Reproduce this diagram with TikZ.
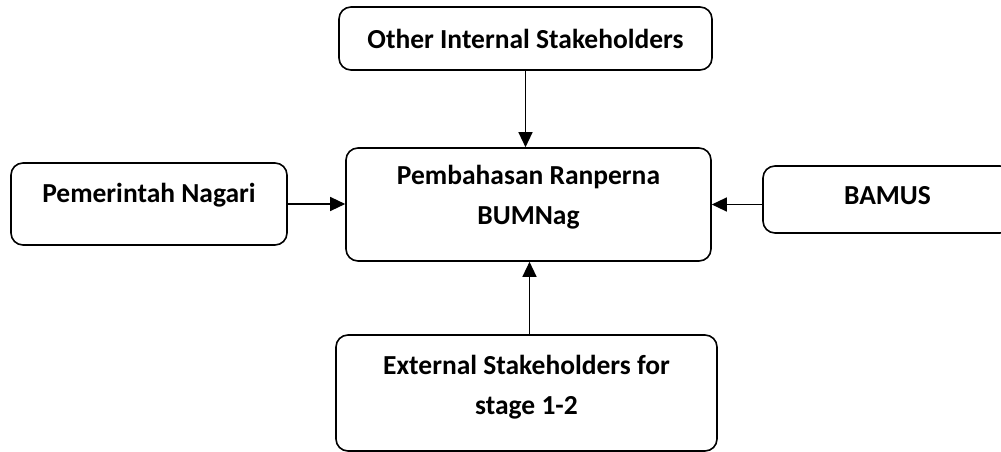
\documentclass[tikz,border=0pt]{standalone}
\usepackage{fontspec}
\setmainfont{Carlito}
\usetikzlibrary{arrows.meta,positioning}

\begin{document}
\begin{tikzpicture}[x=1pt,y=-1pt,
  box/.style={draw,line width=1.6pt,rounded corners=12pt,inner sep=0pt,align=center,
    font=\bfseries\fontsize{27.5}{40}\selectfont},
  arr/.style={line width=1.3pt,-{Triangle[length=15pt,width=14pt]}}]
\useasboundingbox (0,0) rectangle (1001,452);
\node[box,minimum width=373pt,minimum height=63pt] (other) at (525.5,38.5) {Other Internal Stakeholders};
\node[box,minimum width=365pt,minimum height=113pt,text height=60pt,text depth=21pt] (pembahasan) at (528.5,204.5) {Pembahasan Ranperna\\BUMNag};
\node[box,minimum width=276pt,minimum height=82pt,text height=20pt,text depth=24pt] (pemerintah) at (149,204) {Pemerintah Nagari};
\node[box,minimum width=249pt,minimum height=67pt,text height=18pt,text depth=8pt] (bamus) at (887.5,199.5) {BAMUS};
\node[box,minimum width=381pt,minimum height=116pt,text height=60pt,text depth=17pt] (external) at (526.5,393) {External Stakeholders for\\stage 1-2};
\draw[arr] (other.south) -- (other.south |- pembahasan.north);
\draw[arr] (pemerintah.east) -- (pemerintah.east -| pembahasan.west);
\draw[arr] (bamus.west |- pembahasan.east) -- (pembahasan.east);
\draw[arr] ([xshift=3pt]external.north) -- ([xshift=3pt]external.north |- pembahasan.south);
\end{tikzpicture}
\end{document}
